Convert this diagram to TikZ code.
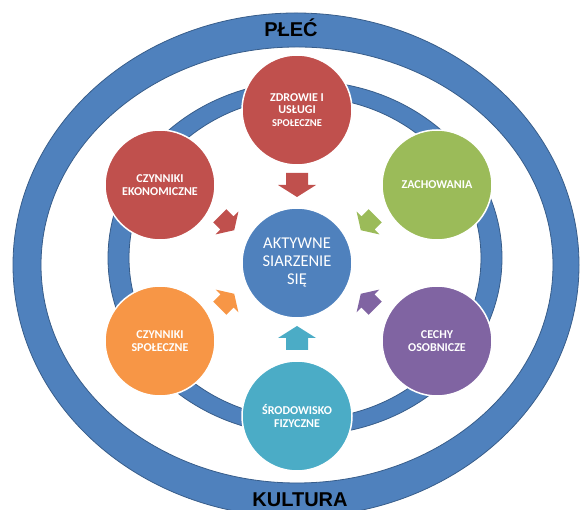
\documentclass[tikz,border=0pt]{standalone}
\usepackage{fontspec}
\setmainfont{Carlito}
\newfontfamily\ringfont{Liberation Sans}
\definecolor{ringblue}{HTML}{4F81BD}
\definecolor{ringedge}{HTML}{385D8A}
\definecolor{facred}{HTML}{C0504D}
\definecolor{facgreen}{HTML}{9BBB59}
\definecolor{facpurple}{HTML}{8064A2}
\definecolor{facorange}{HTML}{F79646}
\definecolor{facteal}{HTML}{4BACC6}
\definecolor{hubblue}{HTML}{4F81BD}
\tikzset{
  blockarrow/.pic={
    \fill (-12,-11) -- (0,-11) -- (0,-19) -- (12,0) -- (0,19) -- (0,11) -- (-12,11) -- cycle;
  }
}
\begin{document}
\begin{tikzpicture}[x=1pt,y=1pt,
  ring/.style={fill=ringblue, draw=ringedge, line width=0.8pt, even odd rule},
  factor/.style={circle, draw=white, line width=1.5pt, minimum size=110pt,
    inner sep=0pt, align=center, text=white,
    font=\bfseries\fontsize{12}{12.8}\selectfont},
  hubnode/.style={factor, font=\fontsize{16.5}{18}\selectfont},
  ringlabel/.style={font=\ringfont\bfseries\fontsize{20}{24}\selectfont,
    text=black, anchor=base, inner sep=0pt},
]
\useasboundingbox (0,0) rectangle (581,510);

% outer band and inner band
\path[ring] (296,245) ellipse [x radius=283, y radius=252]
            (297,245) ellipse [x radius=256, y radius=218];
\path[ring] (305,252) ellipse [x radius=197, y radius=177]
            (305,252) ellipse [x radius=176, y radius=161];

\node[ringlabel] (plec) at (291,473) {PŁEĆ};
\node[ringlabel] (kultura) at (300,3) {KULTURA};

% central circle and the six factors
\node[hubnode, fill=hubblue] (hub) at (297,247) {AKTYWNE\\SIARZENIE\\SIĘ};
\node[factor, fill=facred] (zdrowie) at (297,400)
  {ZDROWIE I\\USŁUGI\\{\fontsize{10.5}{12}\selectfont SPOŁECZNE}};
\node[factor, fill=facred] (ekon) at (160,325) {CZYNNIKI\\EKONOMICZNE};
\node[factor, fill=facgreen] (zach) at (437,325) {ZACHOWANIA};
\node[factor, fill=facorange] (spol) at (160,169) {CZYNNIKI\\SPOŁECZNE};
\node[factor, fill=facpurple] (cechy) at (437,169) {CECHY\\OSOBNICZE};
\node[factor, fill=facteal] (srod) at (297,94) {ŚRODOWISKO\\FIZYCZNE};

% block arrows pointing to the centre
\pic[fill=facred, rotate=-90] (aZdrowie) at (297,325) {blockarrow};
\pic[fill=facteal, rotate=90] (aSrod) at (297,172) {blockarrow};
\pic[fill=facred, rotate=-45, scale=0.85] (aEkon) at (227,287) {blockarrow};
\pic[fill=facgreen, rotate=-135, scale=0.85] (aZach) at (368,287) {blockarrow};
\pic[fill=facorange, rotate=45, scale=0.85] (aSpol) at (227,209) {blockarrow};
\pic[fill=facpurple, rotate=135, scale=0.85] (aCechy) at (368,209) {blockarrow};
\end{tikzpicture}
\end{document}
